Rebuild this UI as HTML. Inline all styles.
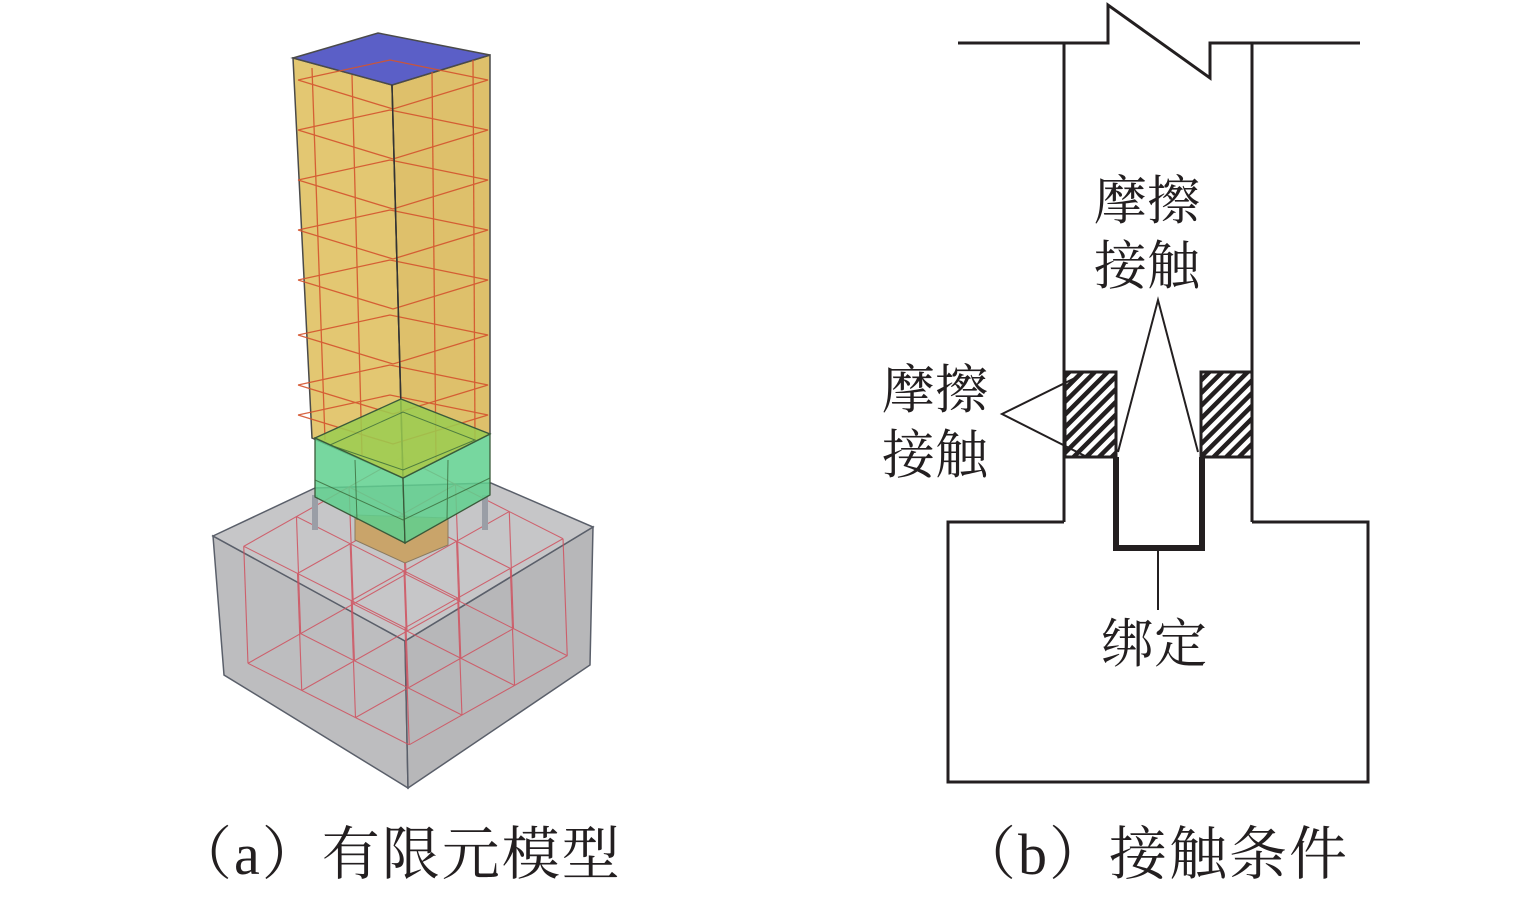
<!DOCTYPE html>
<html><head><meta charset="utf-8"><style>
html,body{margin:0;padding:0;background:#fff;}
body{width:1535px;height:897px;overflow:hidden;position:relative;font-family:"Liberation Serif","Noto Serif CJK SC",serif;}
.t{position:absolute;color:#231f20;white-space:nowrap;line-height:1;}
</style></head><body>
<svg width="1535" height="897" style="position:absolute;left:0;top:0">
<defs>
<pattern id="h" patternUnits="userSpaceOnUse" width="9" height="9" patternTransform="rotate(45)">
<rect width="9" height="9" fill="#fff"/><rect width="4.5" height="9" fill="#231f20"/>
</pattern>
<g id="hg">
<line x1="0.08" y1="0.08" x2="0.08" y2="0.92"/><line x1="0.36" y1="0.08" x2="0.36" y2="0.92"/>
<line x1="0.64" y1="0.08" x2="0.64" y2="0.92"/><line x1="0.92" y1="0.08" x2="0.92" y2="0.92"/>
<line y1="0.08" x1="0.08" y2="0.08" x2="0.92"/><line y1="0.36" x1="0.08" y2="0.36" x2="0.92"/>
<line y1="0.64" x1="0.08" y2="0.64" x2="0.92"/><line y1="0.92" x1="0.08" y2="0.92" x2="0.92"/>
</g>
<g id="vg">
<line x1="0.08" y1="0.08" x2="0.08" y2="0.92"/><line x1="0.36" y1="0.08" x2="0.36" y2="0.92"/>
<line x1="0.64" y1="0.08" x2="0.64" y2="0.92"/><line x1="0.92" y1="0.08" x2="0.92" y2="0.92"/>
</g>
</defs>
<g stroke="#5a5f6a" stroke-width="1.5">
<polygon points="213,536 405,641 408,788 224,675" fill="#bdbdbf"/>
<polygon points="405,641 593,527 590,665 408,788" fill="#b7b7b9"/>
<polygon points="213,536 315,488 491,483 593,527 405,641" fill="#c6c6c8"/>
</g>
<g stroke="#d0505e" fill="none" opacity="0.85">
<g transform="matrix(-188,106,192,97,401.4,441)"><use href="#hg" stroke-width="0.006"/></g>
<g transform="matrix(-188,106,192,97,405.6,558)"><use href="#hg" stroke-width="0.006"/></g>
<g transform="matrix(192,97,5,139,386,438.5)"><use href="#vg" stroke-width="0.006"/></g>
<g transform="matrix(192,97,5,139,333.3,468.2)"><use href="#vg" stroke-width="0.006"/></g>
<g transform="matrix(192,97,5,139,280.7,497.8)"><use href="#vg" stroke-width="0.006"/></g>
<g transform="matrix(192,97,5,139,228,527.5)"><use href="#vg" stroke-width="0.006"/></g>
</g>
<polygon points="355,515 448,518 448,545 405,563 355,540" fill="#c9a46a" stroke="#8a7a60" stroke-width="1"/>
<rect x="312" y="495" width="6" height="35" fill="#9a9ea6"/><rect x="482" y="495" width="6" height="35" fill="#9a9ea6"/>
<g stroke="#4a4a4a" stroke-width="1.5">
<polygon points="293,58 392,85 403,478 312,438" fill="#e2c46a" fill-opacity="0.95"/>
<polygon points="392,85 490,55 490,434 403,478" fill="#dcbd63" fill-opacity="0.95"/>
<polygon points="293,58 378,33 490,55 392,85" fill="#5b5fc7"/>
</g>
<g stroke="#d4542e" stroke-width="1.3" fill="none" opacity="0.9">
<line x1="312" y1="68" x2="325" y2="440"/><line x1="352" y1="75" x2="362" y2="455"/>
<line x1="432" y1="72" x2="436" y2="460"/><line x1="473" y1="60" x2="475" y2="440"/>
<g id="rings">
<polyline points="298,80 393,109 488,80 390,60 298,80"/>
</g>
<use href="#rings" y="50"/><use href="#rings" y="100"/><use href="#rings" y="150"/>
<use href="#rings" y="200"/><use href="#rings" y="255"/><use href="#rings" y="305"/><use href="#rings" y="335"/>
</g>
<line x1="392" y1="85" x2="403" y2="478" stroke="#333" stroke-width="1.5"/>
<g stroke="#3a5a3a" stroke-width="1.3">
<polygon points="315,438 403,478 405,543 315,497" fill="#5fd08e" fill-opacity="0.85"/>
<polygon points="403,478 490,434 490,495 405,543" fill="#5fd08e" fill-opacity="0.85"/>
<polygon points="315,438 401,399 490,434 403,478" fill="#9acc50" fill-opacity="0.85"/>
</g>
<g stroke="#3a6a3a" stroke-width="1" fill="none" opacity="0.8">
<polyline points="330,445 403,412 475,440 403,470 330,445"/>
<polyline points="315,480 403,520 490,478"/>
<line x1="355" y1="460" x2="357" y2="520"/><line x1="448" y1="460" x2="447" y2="520"/>
</g>
<g stroke="#231f20" stroke-width="3" fill="none">
<polyline points="958,43 1108,43 1108,5 1210,78 1210,43 1360,43"/>
<line x1="1064" y1="43" x2="1064" y2="522"/>
<line x1="1252" y1="43" x2="1252" y2="522"/>
<polyline points="1064,522 948,522 948,782 1368,782 1368,522 1252,522"/>
</g>
<rect x="1065" y="372" width="51" height="85" fill="url(#h)" stroke="#231f20" stroke-width="3"/>
<rect x="1201" y="372" width="51" height="85" fill="url(#h)" stroke="#231f20" stroke-width="3"/>
<polyline points="1116,457 1116,548 1202,548 1202,457" fill="none" stroke="#231f20" stroke-width="6"/>
<g stroke="#231f20" stroke-width="2" fill="none">
<polyline points="1118,452 1158,300 1198,452"/>
<polyline points="1075,378 1002,414 1085,456"/>
<line x1="1158" y1="548" x2="1158" y2="610"/>
</g>
</svg>
<div class="t" style="left:1094px;top:176px;font-size:53px;">摩擦</div>
<div class="t" style="left:1094px;top:241px;font-size:53px;">接触</div>
<div class="t" style="left:882px;top:365px;font-size:53px;">摩擦</div>
<div class="t" style="left:882px;top:430px;font-size:53px;">接触</div>
<div class="t" style="left:1101px;top:619px;font-size:53px;">绑定</div>
<div class="t" style="left:174px;top:826px;font-size:58px;letter-spacing:2px;">（a）有限元模型</div>
<div class="t" style="left:958px;top:826px;font-size:58px;letter-spacing:2px;">（b）接触条件</div>
</body></html>
